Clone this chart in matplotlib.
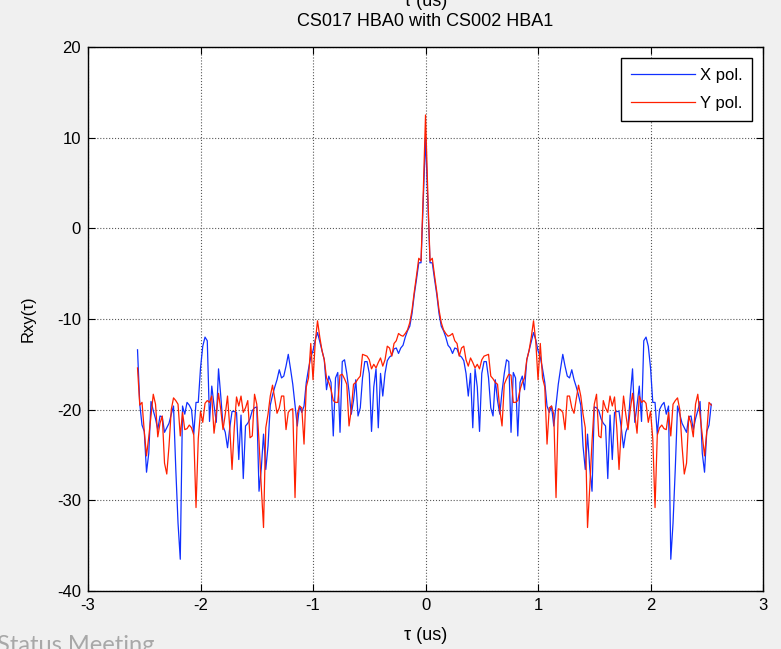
import numpy as np
import matplotlib
matplotlib.use("Agg")
import matplotlib.pyplot as plt

plt.rcParams['font.family'] = ['Liberation Sans', 'DejaVu Sans']
plt.rcParams['axes.unicode_minus'] = False

step = 0.02   # lag spacing (us)
n_half = 128

# Rxy values for lags 0 .. 2.54 us (one value per lag step).
# The curves are mirror symmetric about tau = 0.
x_pol_half = [
    10.0, 3.0, -3.8, -3.8, -5.6, -7.3, -9.4, -10.8, -11.3, -12.0,
    -12.9, -13.2, -13.8, -13.2, -13.3, -14.0, -14.2, -14.6, -16.0, -18.5,
    -16.0, -22.0, -15.5, -17.5, -22.4, -16.0, -14.7, -14.7, -16.5, -19.8,
    -20.7, -16.7, -19.0, -20.5, -18.0, -16.0, -14.5, -14.7, -22.5, -15.9,
    -16.5, -22.9, -17.0, -16.3, -17.8, -14.5, -13.5, -12.5, -11.5, -12.3,
    -13.5, -14.2, -15.5, -17.0, -19.6, -20.3, -19.6, -21.8, -19.5, -17.2,
    -15.5, -13.9, -15.2, -16.3, -16.5, -15.6, -16.7, -17.5, -18.4, -19.5,
    -24.0, -26.6, -22.7, -26.5, -29.0, -19.7, -19.8, -20.1, -21.0, -21.5,
    -21.8, -27.6, -20.6, -25.5, -20.3, -20.2, -20.2, -22.0, -24.2, -22.5,
    -21.8, -18.5, -15.5, -21.4, -19.5, -17.4, -21.3, -12.4, -12.0, -13.0,
    -15.4, -19.2, -19.2, -22.7, -20.0, -19.5, -19.2, -20.5, -19.6, -36.5,
    -32.5, -26.5, -19.6, -20.5, -21.5, -22.0, -22.5, -20.8, -20.7, -22.2,
    -21.0, -20.1, -19.1, -24.8, -26.9, -22.4, -21.7, -19.4,
]
y_pol_half = [
    12.5, 4.0, -3.6, -3.3, -5.2, -7.0, -9.0, -10.4, -11.2, -11.6,
    -11.9, -11.8, -11.6, -12.4, -12.7, -14.1, -13.2, -13.0, -14.5, -15.2,
    -14.3, -14.8, -15.4, -15.0, -15.5, -14.5, -14.1, -14.0, -13.9, -16.3,
    -16.6, -17.0, -17.2, -20.0, -21.8, -17.2, -16.6, -16.1, -16.2, -19.2,
    -19.2, -19.0, -17.8, -17.0, -16.5, -14.5, -13.5, -12.0, -10.2, -12.5,
    -16.7, -12.7, -16.5, -17.5, -23.8, -19.8, -19.6, -20.5, -29.7, -19.9,
    -20.0, -20.3, -22.2, -18.5, -18.5, -19.8, -20.4, -18.8, -17.3, -18.5,
    -20.5, -22.0, -33.0, -28.5, -23.5, -19.4, -18.3, -22.9, -23.1, -19.0,
    -19.8, -20.3, -18.5, -19.6, -18.6, -22.0, -26.6, -22.0, -18.5, -20.5,
    -22.2, -20.0, -18.2, -20.5, -22.6, -18.5, -19.2, -19.0, -19.3, -21.4,
    -20.2, -23.2, -30.8, -22.8, -22.0, -21.7, -22.1, -22.2, -20.3, -22.9,
    -19.4, -19.0, -18.7, -20.0, -24.0, -27.1, -25.9, -20.7, -21.5, -23.0,
    -19.4, -18.3, -20.6, -23.0, -25.1, -22.4, -19.2, -19.5,
]
# the sample at -2.56 us has no partner on the right side
x_pol_first = -13.4
y_pol_first = -15.4

lags = np.arange(-n_half, n_half) * step
x_pol = np.concatenate([[x_pol_first], x_pol_half[:0:-1], x_pol_half])
y_pol = np.concatenate([[y_pol_first], y_pol_half[:0:-1], y_pol_half])

fig = plt.figure(figsize=(7.81, 6.49), dpi=100, facecolor='#f0f0f0')
ax = fig.add_axes([0.1127, 0.0894, 0.8643, 0.8382])
ax.set_facecolor('white')

ax.plot(lags, x_pol, color='#1030ff', lw=0.9, label='X pol.')
ax.plot(lags, y_pol, color='#ff2000', lw=0.9, label='Y pol.')

ax.set_xlim(-3, 3)
ax.set_ylim(-40, 20)
ax.set_xticks(range(-3, 4))
ax.set_yticks(range(-40, 21, 10))
ax.grid(True, linestyle=':', color='0.35', linewidth=0.8)
ax.tick_params(direction='in', top=True, right=True, length=5, labelsize=12, pad=5)
for s in ax.spines.values():
    s.set_linewidth(1.0)

leg = ax.legend(loc='upper right', bbox_to_anchor=(0.984, 0.98), borderaxespad=0,
                fancybox=False, edgecolor='black', framealpha=1, fontsize=12,
                handlelength=3.8, handletextpad=0.3, borderpad=0.6, labelspacing=0.8)
leg.get_frame().set_linewidth(1.0)

cx = 0.1127 + 0.8643 / 2
fig.text(cx, 1 - 21 / 649, 'CS017 HBA0 with CS002 HBA1', ha='center', va='center', fontsize=13)
# bottom edge of the x label of the panel above, cut by the slide
fig.text(cx, 1 - 1 / 649, 'τ (us)', ha='center', va='center', fontsize=13)
fig.text(cx, 14 / 649, 'τ (us)', ha='center', va='center', fontsize=13)
fig.text(28 / 781, 1 - 319 / 649, 'Rxy(τ)', ha='center', va='center', rotation=90, fontsize=12)
# slide footer, partly below the picture edge
fig.text(-0.004, -3 / 649, 'Status Meeting', ha='left', va='baseline', fontsize=17,
         color='#a8a8a8', family='Lato')

fig.savefig('out.png', dpi=100, facecolor=fig.get_facecolor())
